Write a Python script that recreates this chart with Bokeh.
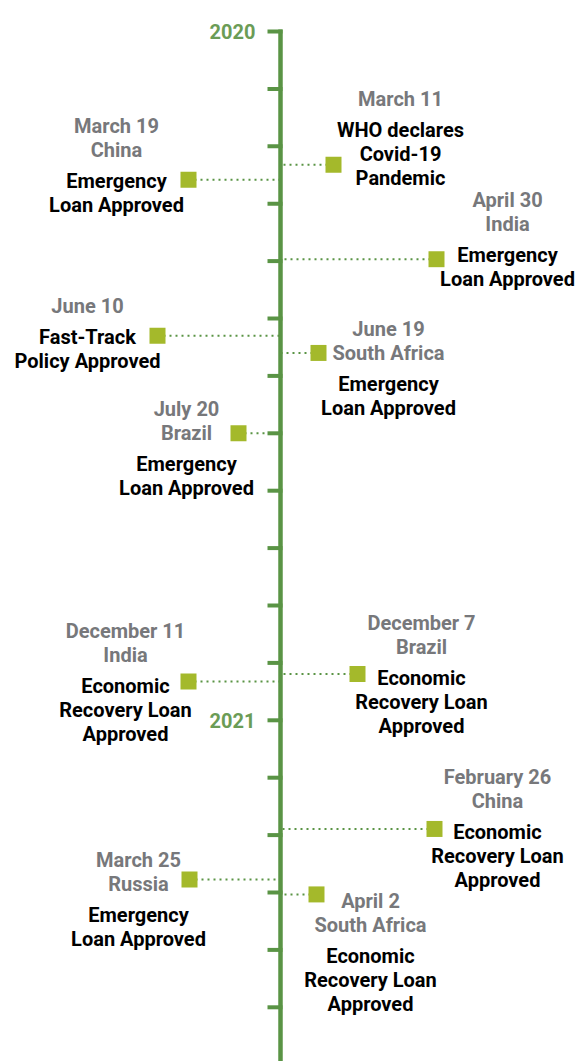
import calendar
from bokeh.plotting import figure
from bokeh.models import Range1d
from bokeh.embed import file_html
from bokeh.resources import INLINE
from bokeh.core.properties import value

# ---------------- data ----------------
start_year = 2020
n_months = 18
year_labels = ["2020", "2021"]
year_months = [0, 12]

# dates at which the markers sit on the timeline
plot_dates = ["2020-03-11", "2020-03-19", "2020-04-30", "2020-06-10", "2020-06-19",
              "2020-08-01", "2020-12-11", "2020-12-07", "2021-02-26", "2021-03-25",
              "2021-04-02"]
date_labels = ["March 11", "March 19", "April 30", "June 10", "June 19", "July 20",
               "December 11", "December 7", "February 26", "March 25", "April 2"]
countries = ["", "China", "India", "", "South Africa", "Brazil", "India", "Brazil",
             "China", "Russia", "South Africa"]
descriptions = ["WHO declares\nCovid-19\nPandemic",
                "Emergency\nLoan Approved",
                "Emergency\nLoan Approved",
                "Fast-Track\nPolicy Approved",
                "Emergency\nLoan Approved",
                "Emergency\nLoan Approved",
                "Economic\nRecovery Loan\nApproved",
                "Economic\nRecovery Loan\nApproved",
                "Economic\nRecovery Loan\nApproved",
                "Emergency\nLoan Approved",
                "Economic\nRecovery Loan\nApproved"]

# ---------------- layout (pixels) ----------------
AXIS_X = 280
marker_x = [333, 188, 436, 157, 318, 238, 188, 357, 434, 189, 316]
text_cx = [400, 116, 507, 87, 388, 186, 125, 421, 497, 138, 370]
first_dy = [-59, -47, -52, -23, -17, -17, -43, -44, -45, -13, 14]
TEXT_SHIFT = -7
LINE_H = 24
BLOCK_GAP = 31

LINE_COLOR = "#5a9445"
MARK_COLOR = "#a4b92b"
GRAY = "#77787b"
YEAR_COLOR = "#6b9c56"
FONT = "Roboto"
FSIZE = "20px"

W, H = 575, 1061
top_m, bot_m = -31 / 57.4, (H - 31) / 57.4
PX = H / (bot_m - top_m)


def month_pos(d):
    y, m, day = map(int, d.split("-"))
    dim = calendar.monthrange(y, m)[1]
    return (y - start_year) * 12 + (m - 1) + (day - 1) / dim


p = figure(width=W, height=H, output_backend="svg", toolbar_location=None,
           x_range=Range1d(0, W), y_range=Range1d(bot_m, top_m),
           min_border=0, outline_line_color=None)
p.axis.visible = False
p.grid.visible = False
p.background_fill_color = "white"

# main line and month ticks
p.segment(x0=[AXIS_X], x1=[AXIS_X], y0=[-2 / PX], y1=[bot_m],
          line_color=LINE_COLOR, line_width=4.5)
months = list(range(n_months))
p.segment(x0=[AXIS_X - 13] * n_months, x1=[AXIS_X + 2] * n_months, y0=months, y1=months,
          line_color=LINE_COLOR, line_width=4)

# year labels
p.text(x=[AXIS_X - 25] * len(year_labels), y=[m + (7 + TEXT_SHIFT) / PX for m in year_months],
       text=year_labels, text_color=YEAR_COLOR, text_font=value(FONT), text_font_style="bold",
       text_font_size=FSIZE, text_align="right", text_baseline="alphabetic")

ys = [month_pos(d) for d in plot_dates]

# dotted connectors
p.segment(x0=marker_x, x1=[AXIS_X] * len(ys), y0=ys, y1=ys,
          line_color=LINE_COLOR, line_width=2, line_dash="2 4")

# markers
p.scatter(x=marker_x, y=ys, marker="square", size=16, fill_color=MARK_COLOR,
          line_color=None)

# text
gx, gy, gt, bx, by, bt = [], [], [], [], [], []
for i, y in enumerate(ys):
    gray = [date_labels[i]] + ([countries[i]] if countries[i] else [])
    black = descriptions[i].split("\n")
    dy = first_dy[i] + TEXT_SHIFT
    for k, t in enumerate(gray):
        gx.append(text_cx[i]); gy.append(y + (dy + LINE_H * k) / PX); gt.append(t)
    dy0 = dy + LINE_H * (len(gray) - 1) + BLOCK_GAP
    for k, t in enumerate(black):
        bx.append(text_cx[i]); by.append(y + (dy0 + LINE_H * k) / PX); bt.append(t)

p.text(x=gx, y=gy, text=gt, text_color=GRAY, text_font=value(FONT), text_font_style="bold",
       text_font_size=FSIZE, text_align="center", text_baseline="alphabetic")
p.text(x=bx, y=by, text=bt, text_color="black", text_font=value(FONT), text_font_style="bold",
       text_font_size=FSIZE, text_align="center", text_baseline="alphabetic")

open("out.html", "w").write(file_html(p, INLINE))
